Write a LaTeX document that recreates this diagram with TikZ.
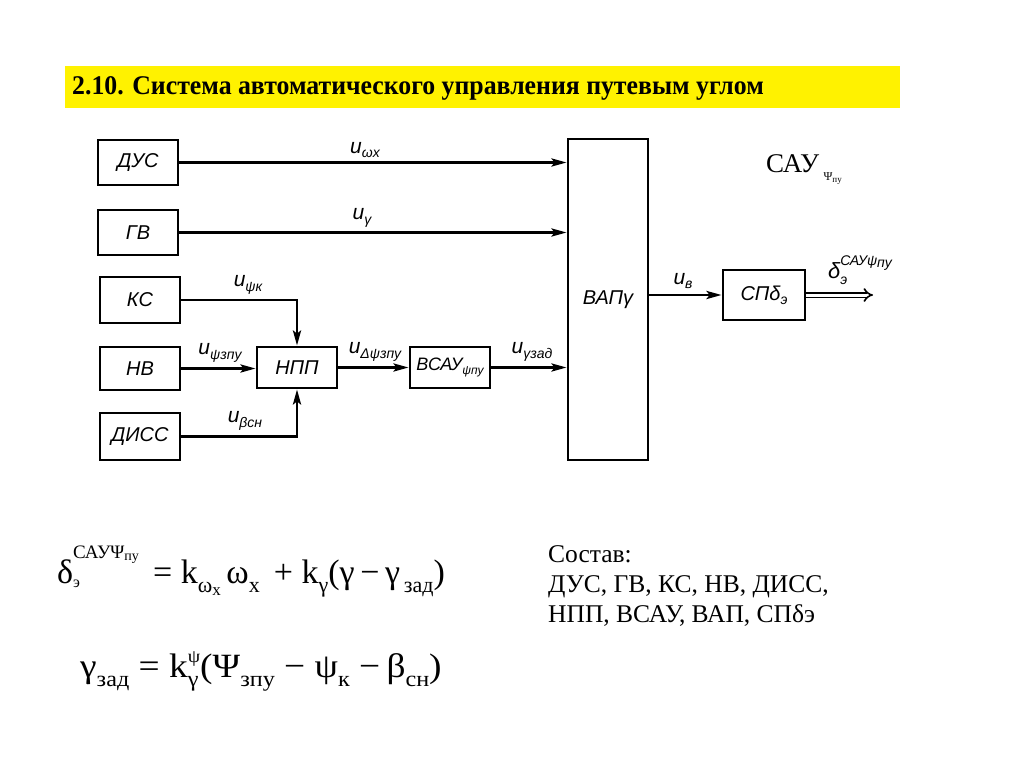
\documentclass[tikz,border=0pt]{standalone}
\usepackage{fontspec}
\setmainfont{Liberation Serif}
\newfontfamily\dfont{Liberation Sans}
\usetikzlibrary{arrows.meta}
\newcommand\dsb[1]{\raisebox{-0.4ex}{\fontsize{14}{14}\selectfont #1}}
\newcommand\fsb[1]{\raisebox{-0.6ex}{\fontsize{22}{22}\selectfont #1}}
\newcommand\fsp[1]{\raisebox{1.6ex}{\fontsize{19}{19}\selectfont #1}}
\newcommand\fspk[1]{\raisebox{0.95ex}{\fontsize{18}{18}\selectfont #1}}
\newcommand\ssb[2]{\sbox0{\fspk{#1}}\sbox2{\fsb{#2}}\ifdim\wd0>\wd2 \rlap{\usebox2}\usebox0\else\rlap{\usebox0}\usebox2\fi}
\begin{document}
\begin{tikzpicture}[x=1pt,y=-1pt,
  blk/.style={draw, line width=2.8pt, minimum width=80pt, inner sep=0pt, font=\dfont\itshape\fontsize{20}{20}\selectfont},
  arr/.style={line width=2.8pt, -{Stealth[length=15pt,width=8pt,inset=3pt]}},
  lbl/.style={font=\dfont\itshape\fontsize{21}{21}\selectfont, inner sep=0pt},
  ftxt/.style={font=\fontsize{34}{34}\selectfont, inner sep=0pt, anchor=base west}]
\useasboundingbox[fill=white] (0,0) rectangle (1024,767);
% title
\fill[yellow] (65,66) rectangle (900,108);
\node[anchor=west, inner sep=0pt, font=\bfseries\fontsize{27}{27}\selectfont] (title) at (72,88) {\scalebox{0.955}[1]{2.10. Система автоматического управления путевым углом}};
% blocks
\node[blk, minimum height=45pt] (dus) at (138,162.5) {ДУС};
\node[blk, minimum height=45pt] (gv) at (138,232.5) {ГВ};
\node[blk, minimum height=46pt] (ks) at (140,300) {КС};
\node[blk, minimum height=43pt] (nv) at (140,368.5) {НВ};
\node[blk, minimum height=47pt] (diss) at (140,436.5) {ДИСС};
\node[blk, minimum height=41pt] (npp) at (297,367.5) {НПП};
\node[blk, minimum height=41pt, font=\dfont\itshape\fontsize{18}{18}\selectfont] (vsau) at (450,367.5) {ВСАУ\raisebox{-0.4ex}{\fontsize{12}{12}\selectfont ψпу}};
\node[blk, minimum height=321pt] (vap) at (608,299.5) {ВАПγ};
\node[blk, minimum width=82pt, minimum height=50pt] (sp) at (764,295) {СПδ\dsb{э}};
\coordinate (out) at (873,295);
% connectors
\draw[arr] (dus.east) -- (dus.east -| vap.west);
\draw[arr] (gv.east) -- (gv.east -| vap.west);
\draw[arr] (ks.east) -| (npp.north);
\draw[arr] (nv.east) -- (nv.east -| npp.west);
\draw[arr] (diss.east) -| (npp.south);
\draw[arr] (npp.east) -- (vsau.west);
\draw[arr] (vsau.east) -- (vsau.east -| vap.west);
\draw[arr] (vap.east |- sp.west) -- (sp.west);
\draw[line width=1.6pt, double distance=3pt, -{Implies[length=11pt]}] (sp.east) -- (out);
% labels
\node[lbl] (l1) at (365,150) {u\dsb{ωx}};
\node[lbl] (l2) at (362,218) {u\dsb{γ}};
\node[lbl] (l3) at (248,285) {u\dsb{ψк}};
\node[lbl] (l4) at (220,353) {u\dsb{ψзпу}};
\node[lbl] (l5) at (245,421) {u\dsb{βсн}};
\node[lbl] (l6) at (375,352) {u\dsb{Δψзпу}};
\node[lbl] (l7) at (532,352) {u\dsb{γзад}};
\node[lbl] (l8) at (683,281) {u\dsb{в}};
\node[lbl, font=\dfont\itshape\fontsize{22}{22}\selectfont] (l9) at (860,270) {δ\raisebox{-0.5ex}{\rlap{\fontsize{14}{14}\selectfont э}}\raisebox{1.1ex}{\fontsize{14}{14}\selectfont САУψ\raisebox{-0.2ex}{пу}}};
% top-right caption
\node[anchor=base west, inner sep=0pt, font=\fontsize{27}{27}\selectfont] (cap) at (766,173) {САУ\,\raisebox{-0.6ex}{\fontsize{12}{12}\selectfont Ψ\raisebox{-0.3ex}{\fontsize{9}{9}\selectfont пу}}};
% formulas
\node[ftxt] (f1) at (57,583) {\scalebox{1.0}[1]{δ\rlap{\raisebox{-0.3ex}{\fontsize{16}{16}\selectfont э}}\fsp{САУΨ\raisebox{-0.3ex}{\fontsize{14}{14}\selectfont пу}}\ \,=\ k\fsb{ω\raisebox{-0.35ex}{\fontsize{17}{17}\selectfont x}}\,ω\fsb{x}\ \,+\ k\fsb{γ}(γ\,−\,γ\fsb{\,зад})}};
\node[ftxt] (f2) at (80,677) {\scalebox{1.1}[1]{γ\fsb{зад}\ =\ k\ssb{ψ}{γ}(Ψ\fsb{зпу}\ −\ ψ\fsb{к}\ −\,β\fsb{сн})}};
% composition text
\node[anchor=base west, inner sep=0pt, align=left, font=\fontsize{25.5}{30}\selectfont] (sostav) at (548,622) {Состав:\\ДУС, ГВ, КС, НВ, ДИСС,\\НПП, ВСАУ, ВАП, СПδэ};
\end{tikzpicture}
\end{document}
